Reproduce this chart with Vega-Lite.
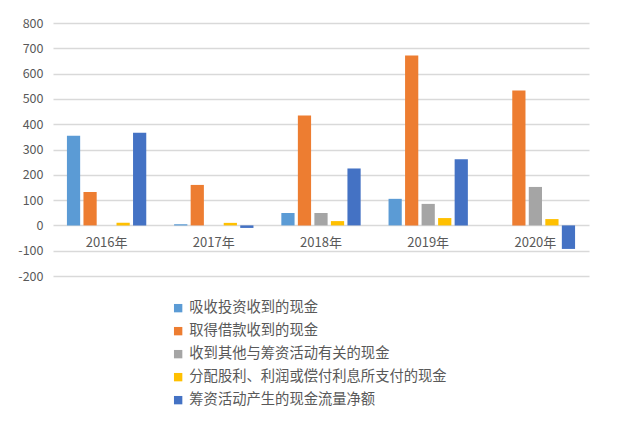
{
  "$schema": "https://vega.github.io/schema/vega-lite/v6.json",
  "width": 536,
  "height": 253,
  "autosize": "none",
  "padding": {"left": 53, "top": 23, "right": 30, "bottom": 145},
  "background": "white",
  "config": {
    "font": "Noto Sans CJK SC",
    "view": {"stroke": null}
  },
  "layer": [
    {
      "data": {
        "values": [
          {"year": "2016年", "series": "吸收投资收到的现金", "value": 354},
          {"year": "2016年", "series": "取得借款收到的现金", "value": 132},
          {"year": "2016年", "series": "收到其他与筹资活动有关的现金", "value": 0},
          {"year": "2016年", "series": "分配股利、利润或偿付利息所支付的现金", "value": 10},
          {"year": "2016年", "series": "筹资活动产生的现金流量净额", "value": 366},
          {"year": "2017年", "series": "吸收投资收到的现金", "value": 5},
          {"year": "2017年", "series": "取得借款收到的现金", "value": 160},
          {"year": "2017年", "series": "收到其他与筹资活动有关的现金", "value": 0},
          {"year": "2017年", "series": "分配股利、利润或偿付利息所支付的现金", "value": 10},
          {"year": "2017年", "series": "筹资活动产生的现金流量净额", "value": -10},
          {"year": "2018年", "series": "吸收投资收到的现金", "value": 49},
          {"year": "2018年", "series": "取得借款收到的现金", "value": 434},
          {"year": "2018年", "series": "收到其他与筹资活动有关的现金", "value": 49},
          {"year": "2018年", "series": "分配股利、利润或偿付利息所支付的现金", "value": 17},
          {"year": "2018年", "series": "筹资活动产生的现金流量净额", "value": 225},
          {"year": "2019年", "series": "吸收投资收到的现金", "value": 105},
          {"year": "2019年", "series": "取得借款收到的现金", "value": 672},
          {"year": "2019年", "series": "收到其他与筹资活动有关的现金", "value": 85},
          {"year": "2019年", "series": "分配股利、利润或偿付利息所支付的现金", "value": 29},
          {"year": "2019年", "series": "筹资活动产生的现金流量净额", "value": 261},
          {"year": "2020年", "series": "吸收投资收到的现金", "value": 0},
          {"year": "2020年", "series": "取得借款收到的现金", "value": 533},
          {"year": "2020年", "series": "收到其他与筹资活动有关的现金", "value": 152},
          {"year": "2020年", "series": "分配股利、利润或偿付利息所支付的现金", "value": 25},
          {"year": "2020年", "series": "筹资活动产生的现金流量净额", "value": -93}
        ]
      },
      "mark": {"type": "bar"},
      "encoding": {
        "x": {
          "field": "year", "type": "nominal", "sort": null,
          "scale": {"paddingInner": 0.26, "paddingOuter": 0.13},
          "axis": null
        },
        "xOffset": {
          "field": "series", "type": "nominal",
          "sort": ["吸收投资收到的现金", "取得借款收到的现金", "收到其他与筹资活动有关的现金", "分配股利、利润或偿付利息所支付的现金", "筹资活动产生的现金流量净额"],
          "scale": {"paddingInner": 0.2}
        },
        "y": {
          "field": "value", "type": "quantitative",
          "scale": {"domain": [-200, 800], "nice": false, "zero": false},
          "axis": {
            "title": null,
            "values": [-200, -100, 0, 100, 200, 300, 400, 500, 600, 700, 800],
            "labelExpr": "'' + datum.value",
            "labelOverlap": false,
            "domain": false, "ticks": false,
            "labelPadding": 10,
            "labelFontSize": 12.5,
            "labelColor": "#595959",
            "labelFont": "Noto Sans CJK SC",
            "gridColor": "#d9d9d9",
            "gridWidth": 1.3
          }
        },
        "color": {
          "field": "series", "type": "nominal",
          "scale": {
            "domain": ["吸收投资收到的现金", "取得借款收到的现金", "收到其他与筹资活动有关的现金", "分配股利、利润或偿付利息所支付的现金", "筹资活动产生的现金流量净额"],
            "range": ["#5B9BD5", "#ED7D31", "#A5A5A5", "#FFC000", "#4472C4"]
          },
          "legend": {
            "title": null,
            "orient": "none",
            "legendX": 118,
            "legendY": 278,
            "direction": "vertical",
            "symbolType": "square",
            "symbolSize": 70,
            "symbolStrokeWidth": 0,
            "labelFontSize": 14.3,
            "labelColor": "#595959",
            "labelFont": "Noto Sans CJK SC",
            "rowPadding": 8,
            "labelOffset": 4,
            "labelLimit": 400
          }
        }
      }
    },
    {
      "data": {
        "values": [
          {"year": "2016年"}, {"year": "2017年"}, {"year": "2018年"}, {"year": "2019年"}, {"year": "2020年"}
        ]
      },
      "mark": {"type": "text", "dy": 18, "fontSize": 13, "color": "#595959", "baseline": "middle", "align": "center"},
      "encoding": {
        "x": {"field": "year", "type": "nominal", "sort": null, "axis": null},
        "y": {
          "datum": 0, "type": "quantitative",
          "axis": {
            "title": null,
            "values": [-200, -100, 0, 100, 200, 300, 400, 500, 600, 700, 800],
            "labelExpr": "'' + datum.value",
            "labelOverlap": false,
            "domain": false, "ticks": false,
            "labelPadding": 10,
            "labelFontSize": 12.5,
            "labelColor": "#595959",
            "labelFont": "Noto Sans CJK SC",
            "gridColor": "#d9d9d9",
            "gridWidth": 1.3
          }
        },
        "text": {"field": "year"}
      }
    }
  ]
}
